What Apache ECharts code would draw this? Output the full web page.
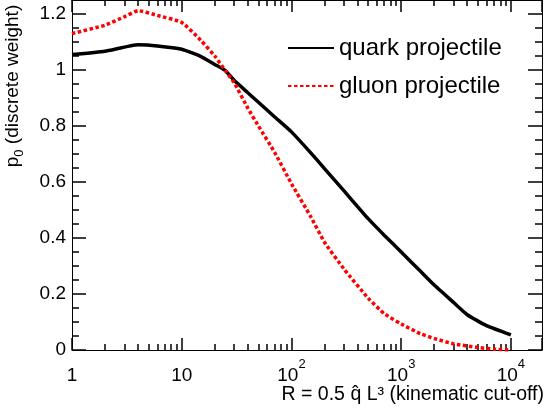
<!DOCTYPE html>
<html>
<head>
<meta charset="utf-8">
<script src="https://cdn.jsdelivr.net/npm/echarts@6/dist/echarts.min.js"></script>
<style>
  html, body { margin: 0; padding: 0; background: #fff; }
  #chart { width: 545px; height: 409px; }
</style>
</head>
<body>
<div id="chart"></div>
<script>
// R = 0.5 qhat L^3 values and p0
const quarkR = [1, 2, 4, 6, 10, 15, 20, 25, 30, 40, 50, 70, 100, 150, 200, 300, 500, 700, 1000, 1500, 2000, 3000, 4000, 6000, 10000];
const quarkP = [1.055, 1.067, 1.09, 1.086, 1.074, 1.048, 1.02, 0.998, 0.963, 0.919, 0.885, 0.833, 0.779, 0.704, 0.648, 0.569, 0.469, 0.41, 0.35, 0.281, 0.232, 0.17, 0.126, 0.087, 0.054];
const gluonR = [1, 2, 3, 4, 6, 10, 15, 20, 25, 30, 40, 50, 70, 100, 150, 200, 300, 500, 700, 1000, 1500, 2000, 3000, 5000, 7000, 10000];
const gluonP = [1.13, 1.16, 1.19, 1.212, 1.195, 1.17, 1.105, 1.05, 0.997, 0.955, 0.864, 0.8, 0.707, 0.594, 0.476, 0.385, 0.29, 0.185, 0.13, 0.093, 0.058, 0.041, 0.022, 0.009, 0.003, 0];
const seriesNames = ["quark projectile", "gluon projectile"];

// axis ticks
const yMajor = [0, 0.2, 0.4, 0.6, 0.8, 1, 1.2];
const yMinor = [0.05, 0.1, 0.15, 0.25, 0.3, 0.35, 0.45, 0.5, 0.55, 0.65, 0.7, 0.75, 0.85, 0.9, 0.95, 1.05, 1.1, 1.15];
const xMin = 1, xMax = 19200;
const xMinor = [];
for (let e = 0; e <= 4; e++) {
  for (let k = 2; k <= 9; k++) {
    const v = k * Math.pow(10, e);
    if (v < xMax) xMinor.push(Math.log10(v));
  }
}

const font = "'Liberation Sans', Arial, sans-serif";
const tickLine = { color: "#000", width: 1.5 };
const chart = echarts.init(document.getElementById("chart"));

const zip = (xs, ys) => xs.map((x, i) => [x, ys[i]]);

const xLabel = (v) => {
  const l = Math.log10(v);
  const e = Math.round(l);
  if (Math.abs(l - e) > 1e-6) return "";
  if (e === 0) return "1";
  if (e === 1) return "10";
  return "10{sup|" + e + "}";
};

const logAxis = (pos, showLabel) => ({
  type: "log",
  logBase: 10,
  min: xMin,
  max: xMax,
  position: pos,
  axisLine: { show: true, onZero: false, lineStyle: { color: "#000", width: 1 } },
  axisTick: { show: true, inside: true, length: 12, lineStyle: tickLine },
  axisLabel: {
    show: showLabel,
    margin: 8,
    color: "#000",
    fontSize: 19,
    fontFamily: font,
    lineHeight: 36,
    formatter: xLabel,
    rich: { sup: { fontSize: 13, fontFamily: font, verticalAlign: "top", lineHeight: 36 } },
  },
  splitLine: { show: false },
});

const minorXAxis = (pos) => ({
  type: "value",
  min: 0,
  max: Math.log10(xMax),
  position: pos,
  axisLine: { show: false, onZero: false },
  axisTick: { show: true, inside: true, length: 6, customValues: xMinor, lineStyle: tickLine },
  axisLabel: { show: false },
  splitLine: { show: false },
});

const yAxisDef = (pos, major, showLabel) => ({
  type: "value",
  min: 0,
  max: 1.25,
  position: pos,
  axisLine: { show: major, onZero: false, lineStyle: { color: "#000", width: 1 } },
  axisTick: {
    show: true,
    inside: true,
    length: major ? 14 : 7,
    customValues: major ? yMajor : yMinor,
    lineStyle: tickLine,
  },
  axisLabel: {
    show: showLabel,
    customValues: yMajor,
    margin: 6,
    color: "#000",
    fontSize: 19,
    fontFamily: font,
  },
  splitLine: { show: false },
});

const option = {
  animation: false,
  backgroundColor: "#fff",
  grid: { left: 72, right: 3, top: 0, bottom: 59 },
  legend: {
    data: seriesNames,
    orient: "vertical",
    left: 287,
    top: 36,
    padding: 0,
    itemWidth: 46,
    itemHeight: 14,
    itemGap: 14,
    itemStyle: { opacity: 0 },
    textStyle: { color: "#000", fontSize: 24, fontFamily: font, lineHeight: 24 },
  },
  xAxis: [logAxis("bottom", true), minorXAxis("bottom"), logAxis("top", false), minorXAxis("top")],
  yAxis: [yAxisDef("left", true, true), yAxisDef("left", false, false), yAxisDef("right", true, false), yAxisDef("right", false, false)],
  graphic: [
    {
      type: "text",
      x: 13,
      y: 86,
      rotation: Math.PI / 2,
      style: {
        text: "p{s|0} (discrete weight)",
        fontSize: 19,
        fontFamily: font,
        fill: "#000",
        align: "center",
        verticalAlign: "middle",
        rich: { s: { fontSize: 13, fontFamily: font, verticalAlign: "bottom", lineHeight: 26 } },
      },
    },
    {
      type: "text",
      right: 1,
      top: 385,
      style: {
        text: "R = 0.5 q\u0302 L\u00b3 (kinematic cut-off)",
        fontSize: 19.5,
        fontFamily: font,
        fill: "#000",
      },
    },
  ],
  series: [
    {
      name: seriesNames[0],
      type: "line",
      xAxisIndex: 0,
      yAxisIndex: 0,
      data: zip(quarkR, quarkP),
      symbol: "none",
      smooth: 0.15,
      lineStyle: { color: "#000", width: 3.5 },
      itemStyle: { color: "#000" },
    },
    {
      name: seriesNames[1],
      type: "line",
      xAxisIndex: 0,
      yAxisIndex: 0,
      data: zip(gluonR, gluonP),
      symbol: "none",
      smooth: 0.15,
      lineStyle: { color: "#ff0000", width: 3.5, type: [3.5, 2.5] },
      itemStyle: { color: "#ff0000" },
    },
  ],
};

chart.setOption(option);
</script>
</body>
</html>
